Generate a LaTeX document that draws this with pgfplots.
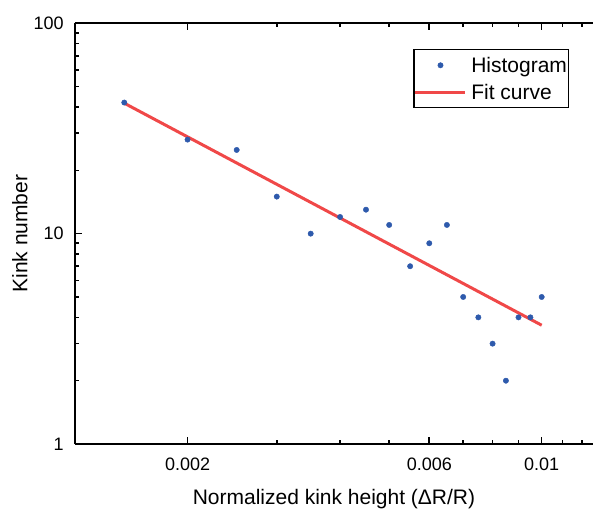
\documentclass[border=0pt]{standalone}
\usepackage{fontspec}
\setmainfont{Liberation Sans}
\usepackage{pgfplots}
\pgfplotsset{compat=1.18}
\definecolor{dotblue}{RGB}{46,90,172}
\definecolor{fitred}{RGB}{240,72,72}

\pgfplotsset{
  dotlegend/.style={legend image code/.code={%
    \draw[##1, draw=none, mark repeat=2, mark phase=2] plot coordinates {(0pt,0pt) (12.5pt,0pt) (25pt,0pt)};}},
  linelegend/.style={legend image code/.code={\draw[##1] (0pt,0pt) -- (25pt,0pt);}},
}

\pgfplotstableread{
x y
0.0015 42
0.002 28
0.0025 25
0.003 15
0.0035 10
0.004 12
0.0045 13
0.005 11
0.0055 7
0.006 9
0.0065 11
0.007 5
0.0075 4
0.008 3
0.0085 2
0.009 4
0.0095 4
0.01 5
}\histdata

\pgfplotstableread{
x y
0.0015 41.7
0.01 3.67
}\fitdata

\begin{document}
\begin{tikzpicture}
\begin{axis}[
  at={(0,0)}, anchor=south west,
  scale only axis, width=259pt, height=210.35pt,
  xmode=log, ymode=log,
  xmin=0.0011988, xmax=0.012626, ymin=1, ymax=100,
  axis y line*=left,
  axis line style={line width=1pt},
  xtick={0.002,0.006,0.01}, xticklabels={0.002,0.006,0.01},
  minor xtick={0.003,0.004,0.005,0.007,0.008,0.009,0.011,0.012},
  ytick={1,10,100}, yticklabels={1,10,100},
  minor ytick={2,3,4,5,6,7,8,9,20,30,40,50,60,70,80,90},
  tick align=inside,
  major tick length=3.5pt, minor tick length=2pt,
  every tick/.style={black, line width=0.8pt},
  tick label style={font=\fontsize{9}{10.5}\selectfont},
  /pgf/number format/assume math mode=true,
  xticklabel style={yshift=-3.6pt},
  yticklabel style={xshift=-2.1pt},
  every axis x label/.style={at={(axis description cs:0.5,0)}, anchor=base, yshift=-30.15pt, font=\fontsize{10.5}{12}\selectfont},
  every axis y label/.style={at={([xshift=-23.85pt]axis description cs:0,0.5)}, rotate=90, anchor=base, font=\fontsize{10.5}{12}\selectfont},
  xlabel={Normalized kink height (ΔR/R)},
  ylabel={Kink number},
  legend cell align=left,
  legend style={at={(axis description cs:0.653,0.939)}, anchor=north west,
    draw=black, line width=0.75pt, inner xsep=0pt, inner ysep=2.9pt,
    column sep=1.3pt, row sep=3.55pt,
    font=\fontsize{10.5}{12}\selectfont,
    nodes={inner xsep=0.85pt, inner ysep=1pt, text height=7.5pt, text depth=0.3pt}},
]
\addplot[only marks, mark=*, mark size=1.35pt, color=dotblue,
  mark options={draw=dotblue, fill=dotblue, line width=0.2pt}, dotlegend]
  table[x=x,y=y] {\histdata};
\addlegendentry{Histogram\hspace{2.15pt}}
\addplot[no marks, color=fitred, line width=1.5pt, linelegend]
  table[x=x,y=y] {\fitdata};
\addlegendentry{Fit curve}
\end{axis}
\pgfresetboundingbox
\useasboundingbox (-37.5pt,-32pt) rectangle (259pt,222pt);
\end{tikzpicture}
\end{document}
